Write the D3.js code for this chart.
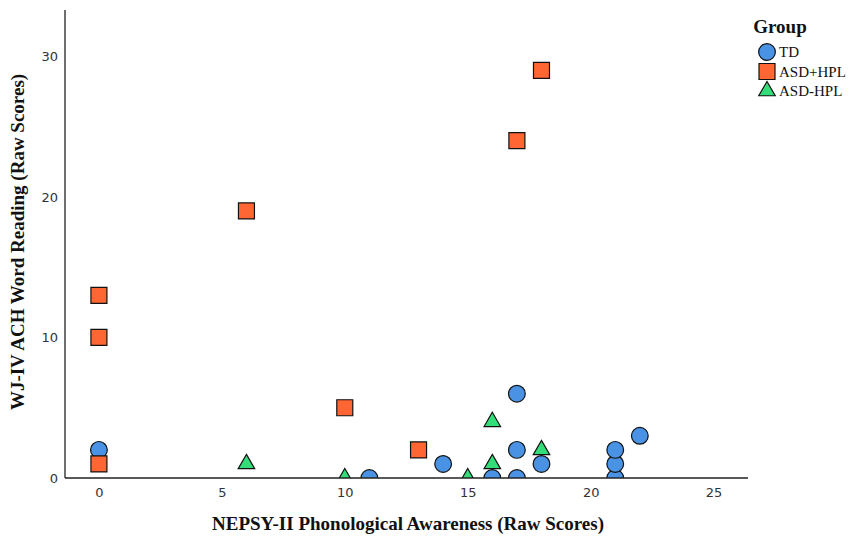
<!doctype html>
<html>
<head>
<script src="https://d3js.org/d3.v7.min.js"></script>
<style>
body { margin: 0; background: #fff; }
.tick text { font: 13px "DejaVu Sans", sans-serif; fill: #333; }
.axis path { stroke: #222; stroke-width: 1.3px; }
.title { font-family: "Liberation Serif", serif; font-weight: bold; font-size: 19px; fill: #111; }
.leg { font-family: "Liberation Serif", serif; font-size: 15px; fill: #111; }
</style>
</head>
<body>
<svg width="851" height="539"></svg>
<script>
// data
var groups = ["TD", "ASD+HPL", "ASD-HPL"];
var tdX = [0, 11, 14, 16, 17, 17, 17, 18, 21, 21, 21, 22];
var tdY = [2, 0, 1, 0, 0, 2, 6, 1, 0, 1, 2, 3];
var hplX = [0, 0, 0, 6, 10, 13, 17, 18];
var hplY = [1, 10, 13, 19, 5, 2, 24, 29];
var noHplX = [6, 10, 15, 16, 16, 18];
var noHplY = [1, 0, 0, 1, 4, 2];
var xTicks = [0, 5, 10, 15, 20, 25];
var yTicks = [0, 10, 20, 30];

var colours = { "TD": "#4a92e3", "ASD+HPL": "#ff6633", "ASD-HPL": "#33dd7a" };
var shapes = { "TD": d3.symbolCircle, "ASD+HPL": d3.symbolSquare, "ASD-HPL": d3.symbolTriangle };
var sizes = { "TD": 220, "ASD+HPL": 256, "ASD-HPL": 118 };

var svg = d3.select("svg"),
    plotL = 65, plotR = 748, plotT = 10, plotB = 478;

var x = d3.scaleLinear().domain([-1.38, 26.4]).range([plotL, plotR]),
    y = d3.scaleLinear().domain([0, 33.3]).range([plotB, plotT]);

svg.append("clipPath").attr("id", "plot")
  .append("rect").attr("x", plotL).attr("y", plotT)
  .attr("width", plotR - plotL).attr("height", plotB - plotT);

var pts = [];
tdX.forEach(function(v, i) { pts.push({ g: "TD", x: v, y: tdY[i] }); });
hplX.forEach(function(v, i) { pts.push({ g: "ASD+HPL", x: v, y: hplY[i] }); });
noHplX.forEach(function(v, i) { pts.push({ g: "ASD-HPL", x: v, y: noHplY[i] }); });

svg.append("g").attr("clip-path", "url(#plot)")
  .selectAll("path")
  .data(pts)
  .enter().append("path")
    .attr("transform", function(d) { return "translate(" + x(d.x) + "," + y(d.y) + ")"; })
    .attr("d", function(d) { return d3.symbol().type(shapes[d.g]).size(sizes[d.g])(); })
    .attr("fill", function(d) { return colours[d.g]; })
    .attr("stroke", "#111")
    .attr("stroke-width", 1.2);

svg.append("g")
    .attr("class", "axis")
    .attr("transform", "translate(0," + plotB + ")")
    .call(d3.axisBottom(x).tickValues(xTicks).tickSize(0).tickPadding(10).tickSizeOuter(0))
    .call(function(g) { g.select(".domain").attr("d", "M" + plotL + ",0H" + plotR); });

svg.append("g")
    .attr("class", "axis")
    .attr("transform", "translate(" + plotL + ",0)")
    .call(d3.axisLeft(y).tickValues(yTicks).tickSize(0).tickPadding(7).tickSizeOuter(0))
    .call(function(g) { g.select(".domain").attr("d", "M0," + plotT + "V" + plotB); });

svg.append("text").attr("class", "title")
    .attr("x", 408).attr("y", 530).attr("text-anchor", "middle")
    .text("NEPSY-II Phonological Awareness (Raw Scores)");

svg.append("text").attr("class", "title")
    .attr("transform", "translate(24,242) rotate(-90)").attr("text-anchor", "middle")
    .text("WJ-IV ACH Word Reading (Raw Scores)");

// legend
var leg = svg.append("g");
leg.append("text").attr("class", "title")
    .attr("x", 780).attr("y", 33).attr("text-anchor", "middle").text("Group");
groups.forEach(function(gname, i) {
  var cy = 52 + i * 19.5;
  leg.append("path")
    .attr("transform", "translate(767," + cy + ")")
    .attr("d", d3.symbol().type(shapes[gname]).size(sizes[gname])())
    .attr("fill", colours[gname]).attr("stroke", "#111").attr("stroke-width", 1.2);
  leg.append("text").attr("class", "leg")
    .attr("x", 779).attr("y", cy + 5).text(gname);
});
</script>
</body>
</html>
